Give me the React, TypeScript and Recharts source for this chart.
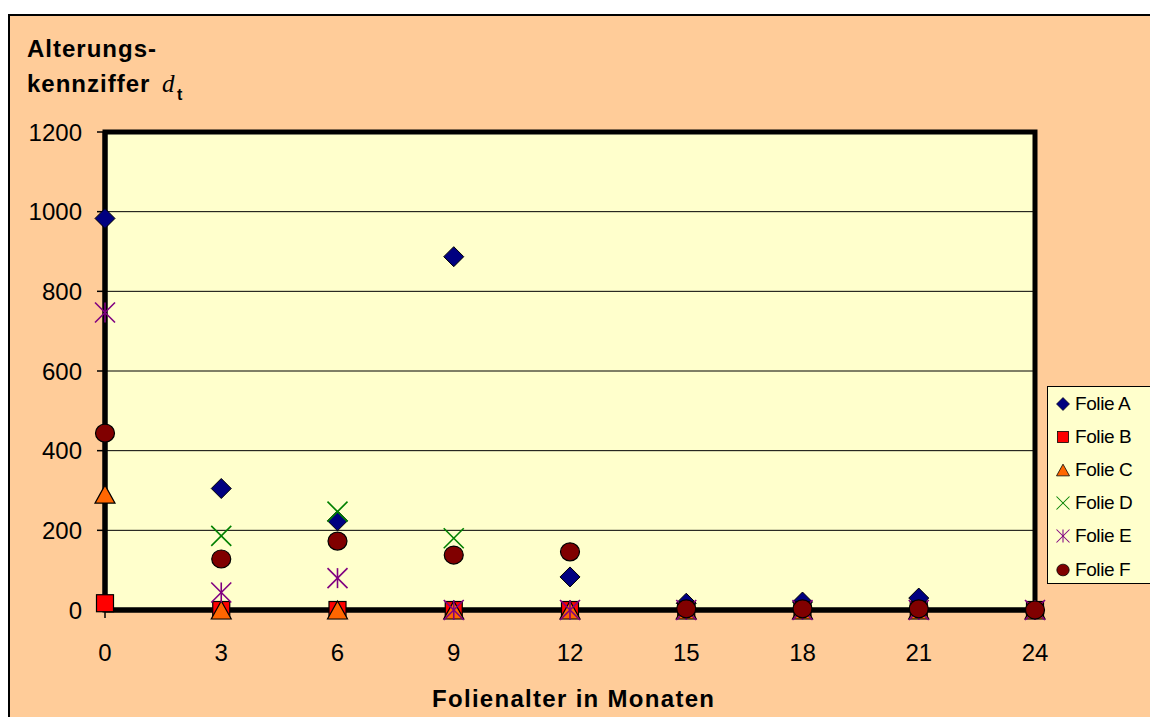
import React from "react";
import {
  ScatterChart,
  Scatter,
  XAxis,
  YAxis,
  CartesianGrid,
  ReferenceArea,
} from "recharts";

const months = [0, 3, 6, 9, 12, 15, 18, 21, 24];
const yTicks = [0, 200, 400, 600, 800, 1000, 1200];

// values (null = no point)
const folieA: (number | null)[] = [983, 305, 224, 887, 83, 17, 20, 30, 0];
const folieB: (number | null)[] = [17, 0, 0, 0, 0, 0, 0, 0, 0];
const folieC: (number | null)[] = [291, 0, 0, 0, 0, 0, 0, 0, 0];
const folieD: (number | null)[] = [null, 186, 247, 180, null, null, null, null, null];
const folieE: (number | null)[] = [747, 44, 80, 0, 0, 0, 0, 0, 0];
const folieF: (number | null)[] = [444, 128, 173, 138, 146, 3, 3, 3, 0];

const seriesNames = ["Folie A", "Folie B", "Folie C", "Folie D", "Folie E", "Folie F"];

const FONT = "'Liberation Sans', Arial, sans-serif";

const toPoints = (vals: (number | null)[]) =>
  months
    .map((m, i) => ({ x: m, y: vals[i] }))
    .filter((p) => p.y !== null);

type MarkProps = { cx?: number; cy?: number };

const Diamond = ({ cx = 0, cy = 0 }: MarkProps) => (
  <polygon
    points={`${cx},${cy - 10} ${cx + 10},${cy} ${cx},${cy + 10} ${cx - 10},${cy}`}
    fill="#000080"
    stroke="#000"
    strokeWidth={1}
  />
);

const Square = ({ cx = 0, cy = 0 }: MarkProps) => (
  <rect x={cx - 8.5} y={cy - 8.5} width={17} height={17} fill="#FF0000" stroke="#000" strokeWidth={1.2} />
);

const Triangle = ({ cx = 0, cy = 0 }: MarkProps) => (
  <polygon
    points={`${cx},${cy - 9} ${cx + 10},${cy + 9} ${cx - 10},${cy + 9}`}
    fill="#FF6600"
    stroke="#000"
    strokeWidth={1.2}
  />
);

const Cross = ({ cx = 0, cy = 0 }: MarkProps) => (
  <g stroke="#008000" strokeWidth={1.6}>
    <line x1={cx - 10} y1={cy - 10} x2={cx + 10} y2={cy + 10} />
    <line x1={cx - 10} y1={cy + 10} x2={cx + 10} y2={cy - 10} />
  </g>
);

const Star = ({ cx = 0, cy = 0 }: MarkProps) => (
  <g stroke="#800080" strokeWidth={1.6}>
    <line x1={cx - 10} y1={cy - 10} x2={cx + 10} y2={cy + 10} />
    <line x1={cx - 10} y1={cy + 10} x2={cx + 10} y2={cy - 10} />
    <line x1={cx} y1={cy - 10} x2={cx} y2={cy + 10} />
  </g>
);

const Dot = ({ cx = 0, cy = 0 }: MarkProps) => (
  <ellipse cx={cx} cy={cy} rx={9.5} ry={9} fill="#800000" stroke="#000" strokeWidth={1.2} />
);

const marks = [Diamond, Square, Triangle, Cross, Star, Dot];
const seriesValues = [folieA, folieB, folieC, folieD, folieE, folieF];

const LegendBox = () => (
  <div
    style={{
      position: "absolute",
      left: 1039,
      top: 372,
      width: 103,
      height: 198,
      boxSizing: "border-box",
      borderTop: "1.5px solid #000",
      borderLeft: "1.5px solid #000",
      borderBottom: "1.5px solid #000",
      background: "#FFFFCC",
      fontFamily: FONT,
      fontSize: 19,
      color: "#000",
      whiteSpace: "nowrap",
    }}
  >
    {seriesNames.map((name, i) => {
      const Mark = marks[i];
      return (
        <div key={name} style={{ height: 33.2, display: "flex", alignItems: "center" }}>
          <svg width={20} height={20} style={{ marginLeft: 5, marginRight: 2, flexShrink: 0 }}>
            <g transform="translate(10,10) scale(0.65)">
              <Mark cx={0} cy={0} />
            </g>
          </svg>
          <span style={{ letterSpacing: -0.4 }}>{name}</span>
        </div>
      );
    })}
  </div>
);

export default function App() {
  return (
    <div
      style={{
        position: "fixed",
        left: 8,
        top: 14,
        width: 1142,
        height: 703,
        background: "#FFCC99",
      }}
    >
      <div style={{ position: "absolute", left: 2, top: 2 }}>
        <ScatterChart
          width={1140}
          height={701}
          margin={{ top: 116, right: 115, bottom: 67, left: 35 }}
        >
          <CartesianGrid
            vertical={false}
            stroke="#000"
            strokeWidth={1}
            fill="#FFFFCC"
            fillOpacity={1}
          />
          <XAxis
            type="number"
            dataKey="x"
            domain={[0, 24]}
            ticks={months}
            interval={0}
            tickSize={8}
            tickMargin={26}
            height={40}
            axisLine={{ stroke: "#000", strokeWidth: 5 }}
            tickLine={{ stroke: "#000", strokeWidth: 1.5 }}
            tick={{ fill: "#000", fontSize: 24, fontFamily: FONT }}
          />
          <YAxis
            type="number"
            dataKey="y"
            domain={[0, 1200]}
            ticks={yTicks}
            interval={0}
            tickSize={8}
            tickMargin={15}
            width={60}
            axisLine={{ stroke: "#000", strokeWidth: 5 }}
            tickLine={{ stroke: "#000", strokeWidth: 1.5 }}
            tick={{ fill: "#000", fontSize: 24, fontFamily: FONT }}
          />
          <ReferenceArea
            x1={0}
            x2={24}
            y1={0}
            y2={1200}
            fill="none"
            fillOpacity={0}
            stroke="#000"
            strokeWidth={5}
          />
          {seriesValues.map((vals, i) => {
            const Mark = marks[i];
            return (
              <Scatter
                key={seriesNames[i]}
                name={seriesNames[i]}
                data={toPoints(vals)}
                isAnimationActive={false}
                shape={(p: any) => <Mark cx={p.cx} cy={p.cy} />}
              />
            );
          })}
        </ScatterChart>
      </div>
      <LegendBox />
      <svg
        width={1142}
        height={703}
        style={{ position: "absolute", left: 0, top: 0, pointerEvents: "none" }}
      >
        <rect x={0} y={0} width={1142} height={2} fill="#000" />
        <rect x={0} y={0} width={2} height={703} fill="#000" />
        <text x={19} y={43} fontFamily={FONT} fontWeight="bold" fontSize={24} letterSpacing={1} fill="#000">
          Alterungs-
        </text>
        <text x={19} y={78} fontFamily={FONT} fontWeight="bold" fontSize={24} letterSpacing={1} fill="#000">
          kennziffer
          <tspan x={154} fontFamily="'Liberation Serif', 'Times New Roman', serif" fontStyle="italic" fontWeight="normal" fontSize={25} letterSpacing={0}>
            d
          </tspan>
          <tspan x={169} dy={8} fontSize={16} letterSpacing={0}>
            t
          </tspan>
        </text>
        <text x={424} y={693} fontFamily={FONT} fontWeight="bold" fontSize={24} letterSpacing={1.3} fill="#000">
          Folienalter in Monaten
        </text>
      </svg>
    </div>
  );
}
